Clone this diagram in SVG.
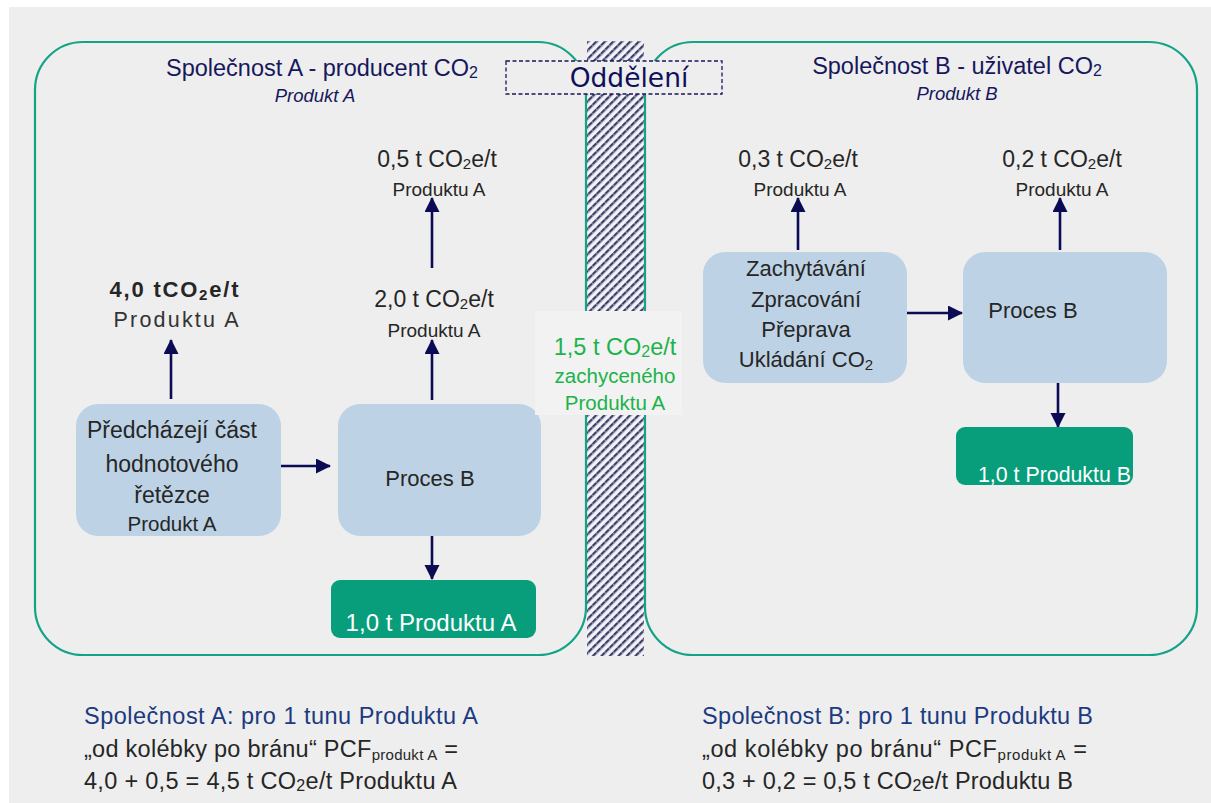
<svg xmlns="http://www.w3.org/2000/svg" width="1211" height="803" viewBox="0 0 1211 803">
<style>
text{font-family:"Liberation Sans",Arial,sans-serif;}
.t{fill:#262626;}
.navy{fill:#17175c;}
.blue{fill:#1b3a80;}
.box{fill:#bdd3e5;}
.gbox{fill:#089e7c;}
.wt{fill:#ffffff;}
.co{fill:none;stroke:#13a386;stroke-width:2.2;}
.conn{stroke:#0b0b55;stroke-width:2.6;fill:none;marker-end:url(#ah);}
.green{fill:#20b24a;}
</style>
<defs>
<marker id="ah" markerUnits="userSpaceOnUse" markerWidth="16" markerHeight="16" refX="14" refY="7.5" orient="auto">
<path d="M0,0 L15,7.5 L0,15 Z" fill="#0b0b55"/>
</marker>
<pattern id="hatch" width="6" height="6" patternUnits="userSpaceOnUse" patternTransform="rotate(-45)">
<rect width="6" height="6" fill="#f2f2fa"/>
<rect width="6" height="2.3" y="0" fill="#3e3e62"/>
<rect width="1.2" height="2.3" x="2" y="0" fill="#8a8ab0"/>
</pattern>
</defs>
<rect width="1211" height="803" fill="#ffffff"/>
<rect x="9" y="7" width="1202" height="796" fill="#eeeeee"/>
<g id="separator">
<rect x="587" y="41" width="57" height="615" fill="url(#hatch)"/>
</g>
<g id="companyA">
<rect class="co" x="35" y="42" width="551" height="613" rx="48" ry="48"/>
<text class="navy" x="322" y="76" font-size="23.5" text-anchor="middle">Společnost A - producent CO<tspan font-size="16" dy="2">2</tspan></text>
<text class="navy" x="315" y="102" font-size="18.5" font-style="italic" text-anchor="middle">Produkt A</text>
</g>
<g id="companyB">
<rect class="co" x="645" y="42" width="552" height="613" rx="48" ry="48"/>
<text class="navy" x="957" y="74" font-size="23.5" text-anchor="middle">Společnost B - uživatel CO<tspan font-size="16" dy="2">2</tspan></text>
<text class="navy" x="957" y="100" font-size="18.5" font-style="italic" text-anchor="middle">Produkt B</text>
</g>
<g id="oddeleni">
<rect x="506" y="61" width="216" height="33" fill="#eeeeee" stroke="#17175c" stroke-width="1.3" stroke-dasharray="4,2.5"/>
<text x="629" y="87" font-size="26.5" fill="#10105a" text-anchor="middle" style="font-family:'DejaVu Sans',sans-serif">Oddělení</text>
</g>
<g id="connectors">
<line class="conn" x1="171" y1="399" x2="171" y2="340"/>
<line class="conn" x1="281" y1="466" x2="330" y2="466"/>
<line class="conn" x1="432" y1="400" x2="432" y2="340"/>
<line class="conn" x1="432" y1="268" x2="432" y2="198"/>
<line class="conn" x1="432" y1="535" x2="432" y2="579"/>
<line class="conn" x1="798" y1="250" x2="798" y2="198"/>
<line class="conn" x1="907" y1="313" x2="962" y2="313"/>
<line class="conn" x1="1060" y1="250" x2="1060" y2="198"/>
<line class="conn" x1="1058" y1="379" x2="1058" y2="427"/>
</g>
<g id="label-40">
<text class="t" x="174" y="297" font-size="22" font-weight="bold" text-anchor="middle" textLength="129" lengthAdjust="spacing">4,0 tCO<tspan font-size="15" dy="3">2</tspan><tspan dy="-3">e/t</tspan></text>
<text x="176" y="327" font-size="21.5" fill="#333333" text-anchor="middle" textLength="125" lengthAdjust="spacing">Produktu A</text>
</g>
<g id="node-predchazeji">
<rect class="box" x="76" y="404" width="205" height="132" rx="22"/>
<text class="t" x="172" y="438" font-size="23" text-anchor="middle">Předcházejí část</text>
<text class="t" x="172" y="472" font-size="23" text-anchor="middle">hodnotového</text>
<text class="t" x="172" y="503" font-size="23" text-anchor="middle">řetězce</text>
<text class="t" x="172" y="531" font-size="20.5" text-anchor="middle">Produkt A</text>
</g>
<g id="node-procesA">
<rect class="box" x="338" y="404" width="203" height="132" rx="22"/>
<text class="t" x="430" y="486" font-size="22" text-anchor="middle">Proces B</text>
</g>
<g id="label-20">
<text class="t" x="434" y="307" font-size="23" text-anchor="middle">2,0 t CO<tspan font-size="15" dy="2">2</tspan><tspan dy="-2">e/t</tspan></text>
<text class="t" x="434" y="337" font-size="19" text-anchor="middle">Produktu A</text>
</g>
<g id="label-05">
<text class="t" x="437" y="167" font-size="23" text-anchor="middle">0,5 t CO<tspan font-size="15" dy="2">2</tspan><tspan dy="-2">e/t</tspan></text>
<text class="t" x="439" y="196" font-size="19" text-anchor="middle">Produktu A</text>
</g>
<g id="node-outA">
<rect class="gbox" x="331" y="580" width="205" height="58" rx="9"/>
<text class="wt" x="431" y="631" font-size="24" text-anchor="middle">1,0 t Produktu A</text>
</g>
<g id="label-15">
<rect x="535" y="311" width="147" height="104" fill="#f2f2f2"/>
<text class="green" x="615" y="355" font-size="23.5" text-anchor="middle">1,5 t CO<tspan font-size="16" dy="2">2</tspan><tspan dy="-2">e/t</tspan></text>
<text class="green" x="615" y="383" font-size="20.5" text-anchor="middle">zachyceného</text>
<text class="green" x="615" y="410" font-size="20.5" text-anchor="middle">Produktu A</text>
</g>
<g id="node-zachytavani">
<rect class="box" x="703" y="252" width="204" height="131" rx="22"/>
<text class="t" x="806" y="276" font-size="22" text-anchor="middle">Zachytávání</text>
<text class="t" x="806" y="307" font-size="22" text-anchor="middle">Zpracování</text>
<text class="t" x="806" y="337" font-size="22" text-anchor="middle">Přeprava</text>
<text class="t" x="806" y="367" font-size="22" text-anchor="middle">Ukládání CO<tspan font-size="15" dy="3">2</tspan></text>
</g>
<g id="label-03">
<text class="t" x="798" y="167" font-size="23" text-anchor="middle">0,3 t CO<tspan font-size="15" dy="2">2</tspan><tspan dy="-2">e/t</tspan></text>
<text class="t" x="800" y="196" font-size="19" text-anchor="middle">Produktu A</text>
</g>
<g id="node-procesB">
<rect class="box" x="963" y="252" width="204" height="131" rx="22"/>
<text class="t" x="1033" y="318" font-size="22" text-anchor="middle">Proces B</text>
</g>
<g id="label-02">
<text class="t" x="1062" y="167" font-size="23" text-anchor="middle">0,2 t CO<tspan font-size="15" dy="2">2</tspan><tspan dy="-2">e/t</tspan></text>
<text class="t" x="1062" y="196" font-size="19" text-anchor="middle">Produktu A</text>
</g>
<g id="node-outB">
<rect class="gbox" x="956" y="427" width="177" height="58" rx="9"/>
<text class="wt" x="978" y="482" font-size="22" textLength="153" lengthAdjust="spacingAndGlyphs">1,0 t Produktu B</text>
</g>
<g id="summaryA">
<text class="blue" x="84" y="724" font-size="23.5" textLength="394" lengthAdjust="spacing">Společnost A: pro 1 tunu Produktu A</text>
<text class="t" x="84" y="757" font-size="23.5" textLength="374" lengthAdjust="spacing">„od kolébky po bránu“ PCF<tspan font-size="15" dy="3">produkt A</tspan><tspan dy="-3"> =</tspan></text>
<text class="t" x="84" y="789" font-size="23.5" textLength="373" lengthAdjust="spacing">4,0 + 0,5 = 4,5 t CO<tspan font-size="16" dy="2">2</tspan><tspan dy="-2">e/t Produktu A</tspan></text>
</g>
<g id="summaryB">
<text class="blue" x="702" y="724" font-size="23.5" textLength="391" lengthAdjust="spacing">Společnost B: pro 1 tunu Produktu B</text>
<text class="t" x="702" y="757" font-size="23.5" textLength="385" lengthAdjust="spacing">„od kolébky po bránu“ PCF<tspan font-size="15" dy="3">produkt A</tspan><tspan dy="-3"> =</tspan></text>
<text class="t" x="702" y="789" font-size="23.5" textLength="371" lengthAdjust="spacing">0,3 + 0,2 = 0,5 t CO<tspan font-size="16" dy="2">2</tspan><tspan dy="-2">e/t Produktu B</tspan></text>
</g>
</svg>
